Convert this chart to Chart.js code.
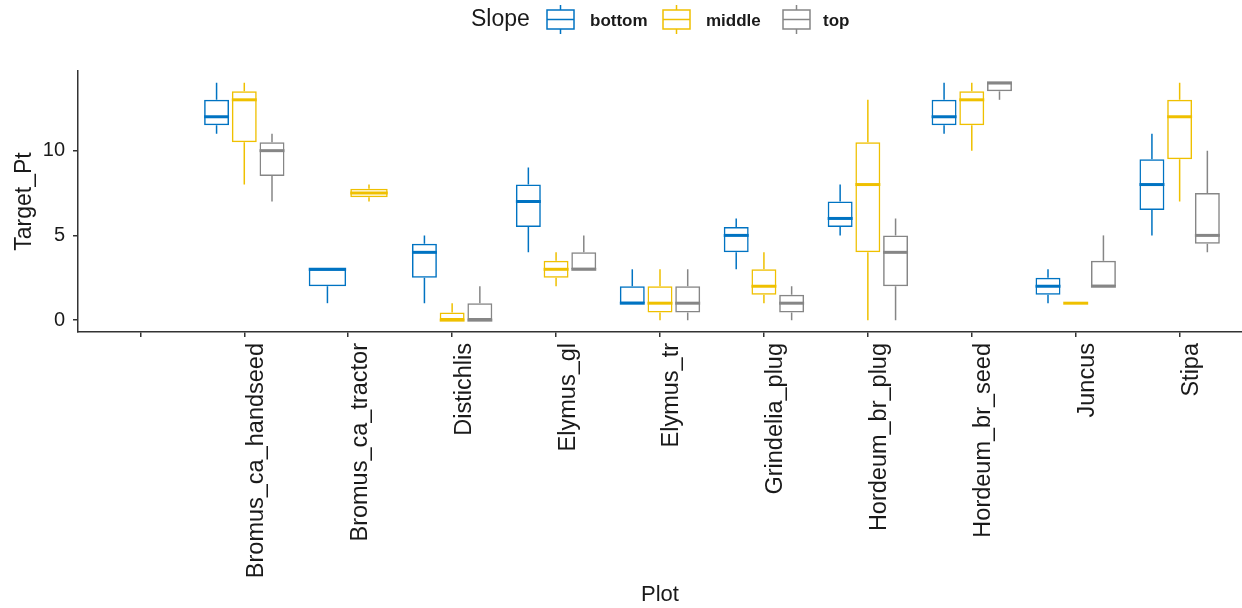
<!DOCTYPE html>
<html>
<head>
<meta charset="utf-8">
<title>Target_Pt by Plot and Slope</title>
<script src="https://cdn.jsdelivr.net/npm/chart.js@4.4.1/dist/chart.umd.min.js"></script>
<style>
    html, body { margin: 0; padding: 0; background: #ffffff; }
    #wrap { width: 1242px; height: 608px; }
</style>
</head>
<body>
<div id="wrap"><canvas id="boxChart" width="1242" height="608"></canvas></div>
<script>
// Plot levels (the first level is empty in the source data)
const categories = ['', 'Bromus_ca_handseed', 'Bromus_ca_tractor', 'Distichlis', 'Elymus_gl', 'Elymus_tr',
    'Grindelia_plug', 'Hordeum_br_plug', 'Hordeum_br_seed', 'Juncus', 'Stipa'];
const slopes = ['bottom', 'middle', 'top'];

// Five number summaries per plot: [min, q1, median, q3, max]
const bottomStats = [null, [11, 11.5, 12, 13, 14], [1, 2, 3, 3, 3], [1, 2.5, 4, 4.5, 5], [4, 5.5, 7, 8, 9],
    [1, 1, 1, 2, 3], [3, 4, 5, 5.5, 6], [5, 5.5, 6, 7, 8], [11, 11.5, 12, 13, 14], [1, 1.5, 2, 2.5, 3], [5, 6.5, 8, 9.5, 11]];
const middleStats = [null, [8, 10.5, 13, 13.5, 14], [7, 7.25, 7.5, 7.75, 8], [0, 0, 0, 0.45, 1], [2, 2.5, 3, 3.5, 4],
    [0, 0.45, 1, 2, 3], [1, 1.5, 2, 3, 4], [0, 4, 8, 10.5, 13], [10, 11.5, 13, 13.5, 14], [1, 1, 1, 1, 1], [7, 9.5, 12, 13, 14]];
const topStats = [null, [7, 8.5, 10, 10.5, 11], null, [0, 0, 0, 1, 2], [3, 3, 3, 4, 5],
    [0, 0.45, 1, 2, 3], [0, 0.45, 1, 1.5, 2], [0, 2, 4, 5, 6], [13, 13.5, 14, 14, 14], [2, 2, 2, 3.5, 5], [4, 4.5, 5, 7.5, 10]];

const yTicks = [0, 5, 10];
const yMin = -0.7;
const yMax = 14.7;

const colors = { bottom: '#0073C2', middle: '#EFC000', top: '#868686' };
const FONT = '"Liberation Sans", Arial, sans-serif';
const INK = '#1a1a1a';

function makeDataset(name, stats) {
    return {
        label: name,
        data: stats.map(s => s ? [s[1], s[3]] : null),
        stats: stats,
        borderColor: colors[name],
        backgroundColor: 'rgba(0, 0, 0, 0)',
        borderWidth: 1.5,
        borderSkipped: false
    };
}

// whiskers and median lines on top of the floating bars
const boxPlugin = {
    id: 'boxWhiskers',
    afterLayout(chart) {
        // ggplot pads a discrete axis by 0.6 of a category on each side
        const x = chart.scales.x;
        x._startValue = -0.6;
        x._valueRange = categories.length - 1 + 1.2;
    },
    afterDatasetsDraw(chart) {
        const ctx = chart.ctx;
        const y = chart.scales.y;
        chart.data.datasets.forEach((ds, di) => {
            const meta = chart.getDatasetMeta(di);
            meta.data.forEach((bar, i) => {
                const s = ds.stats[i];
                if (!s) return;
                const half = bar.width / 2;
                ctx.save();
                ctx.strokeStyle = ds.borderColor;
                ctx.lineWidth = 1.5;
                ctx.beginPath();
                ctx.moveTo(bar.x, y.getPixelForValue(s[3]));
                ctx.lineTo(bar.x, y.getPixelForValue(s[4]));
                ctx.moveTo(bar.x, y.getPixelForValue(s[1]));
                ctx.lineTo(bar.x, y.getPixelForValue(s[0]));
                ctx.stroke();
                ctx.lineWidth = 3;
                ctx.beginPath();
                ctx.moveTo(bar.x - half, y.getPixelForValue(s[2]));
                ctx.lineTo(bar.x + half, y.getPixelForValue(s[2]));
                ctx.stroke();
                ctx.restore();
            });
        });
    }
};

// legend in the ggplot style: title on the left, boxplot keys
const legendPlugin = {
    id: 'slopeLegend',
    afterDraw(chart) {
        const ctx = chart.ctx;
        const iconX = [547, 663, 783];
        const textX = [590, 706, 823];
        ctx.save();
        ctx.fillStyle = INK;
        ctx.textBaseline = 'middle';
        ctx.font = '23px ' + FONT;
        ctx.fillText('Slope', 471, 20);
        slopes.forEach((name, i) => {
            const x0 = iconX[i];
            ctx.strokeStyle = colors[name];
            ctx.lineWidth = 1.5;
            ctx.strokeRect(x0, 10, 27, 19);
            ctx.beginPath();
            ctx.moveTo(x0, 19.5); ctx.lineTo(x0 + 27, 19.5);
            ctx.moveTo(x0 + 13.5, 5); ctx.lineTo(x0 + 13.5, 10);
            ctx.moveTo(x0 + 13.5, 29); ctx.lineTo(x0 + 13.5, 34);
            ctx.stroke();
            ctx.fillStyle = INK;
            ctx.font = 'bold 17px ' + FONT;
            ctx.fillText(name, textX[i], 21);
        });
        ctx.restore();
    }
};

const ctx = document.getElementById('boxChart').getContext('2d');
const boxChart = new Chart(ctx, {
    type: 'bar',
    data: {
        labels: categories,
        datasets: [
            makeDataset('bottom', bottomStats),
            makeDataset('middle', middleStats),
            makeDataset('top', topStats)
        ]
    },
    options: {
        responsive: false,
        animation: false,
        skipNull: true,
        categoryPercentage: 0.8,
        barPercentage: 0.9,
        layout: {
            padding: { top: 71, right: 0, bottom: 0, left: 0 }
        },
        plugins: {
            legend: { display: false },
            tooltip: { enabled: false }
        },
        scales: {
            x: {
                offset: true,
                afterFit: function(scale) { scale.height = 276; },
                grid: {
                    offset: false,
                    drawOnChartArea: false,
                    drawTicks: true,
                    tickLength: 5,
                    color: '#333333',
                    lineWidth: 1.5
                },
                border: { display: true, color: '#333333', width: 1.5 },
                ticks: {
                    autoSkip: false,
                    maxRotation: 90,
                    minRotation: 90,
                    padding: 6,
                    labelOffset: 12,
                    color: INK,
                    font: { family: FONT, size: 23.5 }
                },
                title: {
                    display: true,
                    text: 'Plot',
                    color: INK,
                    padding: { top: 0, bottom: 0 },
                    font: { family: FONT, size: 22 }
                }
            },
            y: {
                min: yMin,
                max: yMax,
                afterFit: function(scale) { scale.width = 78; },
                afterBuildTicks: function(scale) {
                    scale.ticks = yTicks.map(v => ({ value: v }));
                },
                grid: {
                    drawOnChartArea: false,
                    drawTicks: true,
                    tickLength: 5,
                    color: '#333333',
                    lineWidth: 1.5
                },
                border: { display: true, color: '#333333', width: 1.5 },
                ticks: {
                    padding: 8,
                    color: INK,
                    font: { family: FONT, size: 20, lineHeight: 1 }
                },
                title: {
                    display: true,
                    text: 'Target_Pt',
                    color: INK,
                    padding: { top: 11, bottom: 0 },
                    font: { family: FONT, size: 23 }
                }
            }
        }
    },
    plugins: [boxPlugin, legendPlugin]
});
</script>
</body>
</html>
